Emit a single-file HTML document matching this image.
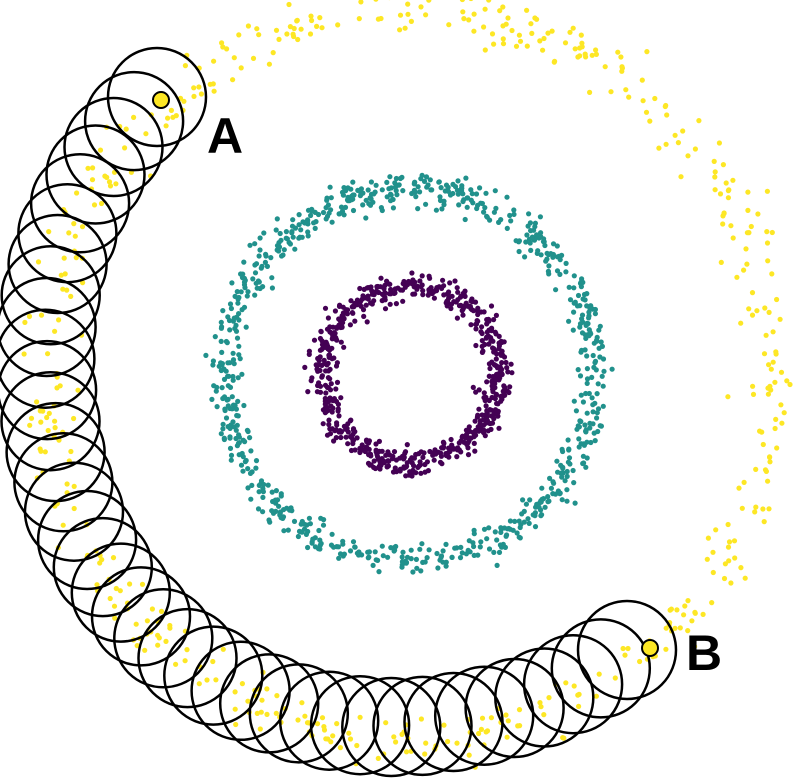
<!DOCTYPE html>
<html><head><meta charset="utf-8"><style>
html,body{margin:0;padding:0;background:#fff;}
svg{display:block;}
</style></head><body>
<svg id="s" width="795" height="781" viewBox="0 0 795 781" xmlns="http://www.w3.org/2000/svg">
<g id="dots"></g>
<g id="circ" fill="none" stroke="#000" stroke-width="2.5"></g>
<circle cx="161" cy="100" r="8" fill="#fde725" stroke="#000" stroke-width="2"/>
<circle cx="650" cy="648" r="8" fill="#fde725" stroke="#000" stroke-width="2"/>
<text x="207" y="153" font-family="Liberation Sans, sans-serif" font-weight="bold" font-size="50" fill="#000">A</text>
<text x="686" y="670" font-family="Liberation Sans, sans-serif" font-weight="bold" font-size="50" fill="#000">B</text>
</svg>
<script>
var seed=12345;function rnd(){seed=(seed*1103515245+12345)%2147483648;return seed/2147483648;}
function gauss(){var u=rnd()||1e-9,v=rnd();return Math.sqrt(-2*Math.log(u))*Math.cos(2*Math.PI*v);}
var cx=410,cy=374,ns="http://www.w3.org/2000/svg";
var dots=document.getElementById("dots");
function ring(n,r,sd,col){for(var i=0;i<n;i++){var a=rnd()*2*Math.PI,rr=r+gauss()*sd;
var c=document.createElementNS(ns,"circle");c.setAttribute("cx",(cx+rr*Math.cos(a)).toFixed(1));
c.setAttribute("cy",(cy+rr*Math.sin(a)).toFixed(1));c.setAttribute("r","2.6");c.setAttribute("fill",col);dots.appendChild(c);}}
ring(520,364,13,"#fde725");
ring(800,185,8,"#21918c");
ring(650,88,7,"#440154");
var g=document.getElementById("circ");
var ox=395,oy=380;
var pA=[157,97],pB=[627,650];
var aA=Math.atan2(pA[1]-oy,pA[0]-ox), aB=Math.atan2(pB[1]-oy,pB[0]-ox);
var rA=Math.hypot(pA[0]-ox,pA[1]-oy), rB=Math.hypot(pB[0]-ox,pB[1]-oy);
var a1=aB-2*Math.PI; var N=36;
for(var i=0;i<N;i++){var t=i/(N-1);var a=aA+(a1-aA)*t;
var R; var tm=0.3; if(t<tm){R=rA+(347-rA)*(t/tm);} else if(t>0.85){R=347+(rB-347)*((t-0.85)/0.15);} else R=347;
var c=document.createElementNS(ns,"circle");c.setAttribute("cx",(ox+R*Math.cos(a)).toFixed(1));
c.setAttribute("cy",(oy+R*Math.sin(a)).toFixed(1));c.setAttribute("r","49");g.appendChild(c);}
</script>
</body></html>
